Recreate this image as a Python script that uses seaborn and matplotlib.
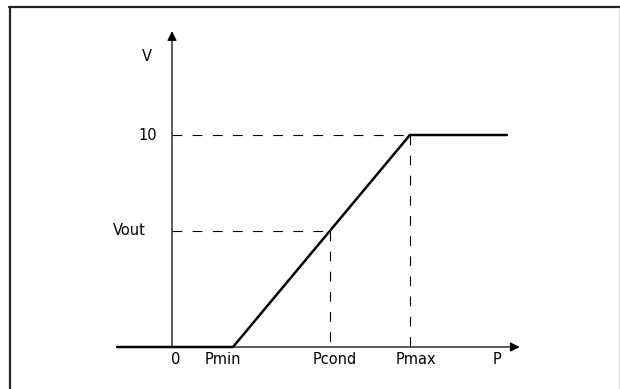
import matplotlib
matplotlib.use("Agg")
import matplotlib.pyplot as plt
import seaborn as sns
import pandas as pd
from matplotlib.lines import Line2D

# ---- data (conceptual units) ----
curve_P = [-0.90, 1.00, 3.90, 5.49]
curve_V = [0.0, 0.0, 10.0, 10.0]
P_min = 1.00
P_cond = 2.59
P_max = 3.90
V_max = 10.0
V_out = 5.47
P_axis_start = -0.90
P_axis_tip = 5.70
V_axis_tip = 14.9
x_labels = ["0", "Pmin", "Pcond", "Pmax", "P"]
y_labels = ["V", "10", "Vout"]

sns.set_style("white")
plt.rcParams["font.family"] = ["DejaVu Sans"]
plt.rcParams["lines.scale_dashes"] = False

W, H = 620, 389
fig = plt.figure(figsize=(W / 100, H / 100), dpi=100)
ax = fig.add_axes([0, 0, 1, 1])
# pixel mapping: P=0 at x=172, 61 px per unit; V=0 at y=347, 21.2 px per unit
sx, ox = 61.0, 172.0
sy, oy = 21.2, 347.0
ax.set_xlim(-ox / sx, (W - ox) / sx)
ax.set_ylim((oy - H) / sy, oy / sy)
ax.axis("off")

def px(xp):
    return (xp - ox) / sx

def py(yp):
    return (oy - yp) / sy

# axes with arrows
ax.annotate("", xy=(P_axis_tip, 0), xytext=(P_axis_start, 0),
            arrowprops=dict(arrowstyle="-|>", color="black", lw=0.9,
                            mutation_scale=14, shrinkA=0, shrinkB=0))
ax.annotate("", xy=(0, V_axis_tip), xytext=(0, 0),
            arrowprops=dict(arrowstyle="-|>", color="black", lw=0.9,
                            mutation_scale=14, shrinkA=0, shrinkB=0))

# dashed guides
dash = (0, (7.0, 7.5))
ax.plot([0, P_max], [V_max, V_max], color="black", lw=0.8, linestyle=dash)
ax.plot([P_max, P_max], [V_max, 0], color="black", lw=0.8, linestyle=dash)
ax.plot([0, P_cond], [V_out, V_out], color="black", lw=0.8, linestyle=dash)
ax.plot([P_cond, P_cond], [V_out, 0], color="black", lw=0.8, linestyle=dash)

# main curve
df = pd.DataFrame({"P": curve_P, "V": curve_V})
sns.lineplot(data=df, x="P", y="V", ax=ax, color="black", lw=1.8,
             sort=False, estimator=None)
ax.set_xlabel("")
ax.set_ylabel("")

fs = 10.5
# x labels
for lab, xp in zip(x_labels, [176, 223, 335, 416, 497]):
    ax.text(px(xp), py(359), lab, ha="center", va="center", fontsize=fs,
            color="black")
# y labels
for lab, (xp, yp) in zip(y_labels, [(147, 56), (148, 135), (129, 230)]):
    ax.text(px(xp), py(yp), lab, ha="center", va="center", fontsize=fs,
            color="black")

# frame (cropped border)
fig.add_artist(Line2D([9.5 / W, 9.5 / W], [0, 1 - 7 / H], transform=fig.transFigure,
                      color="#222222", lw=1.6))
fig.add_artist(Line2D([9 / W, 1], [1 - 7 / H, 1 - 7 / H], transform=fig.transFigure,
                      color="#222222", lw=1.6))
fig.add_artist(Line2D([1 - 1.5 / W, 1 - 1.5 / W], [0, 1 - 8 / H], transform=fig.transFigure,
                      color="#dddddd", lw=1.0))

fig.savefig("out.png", dpi=100)
